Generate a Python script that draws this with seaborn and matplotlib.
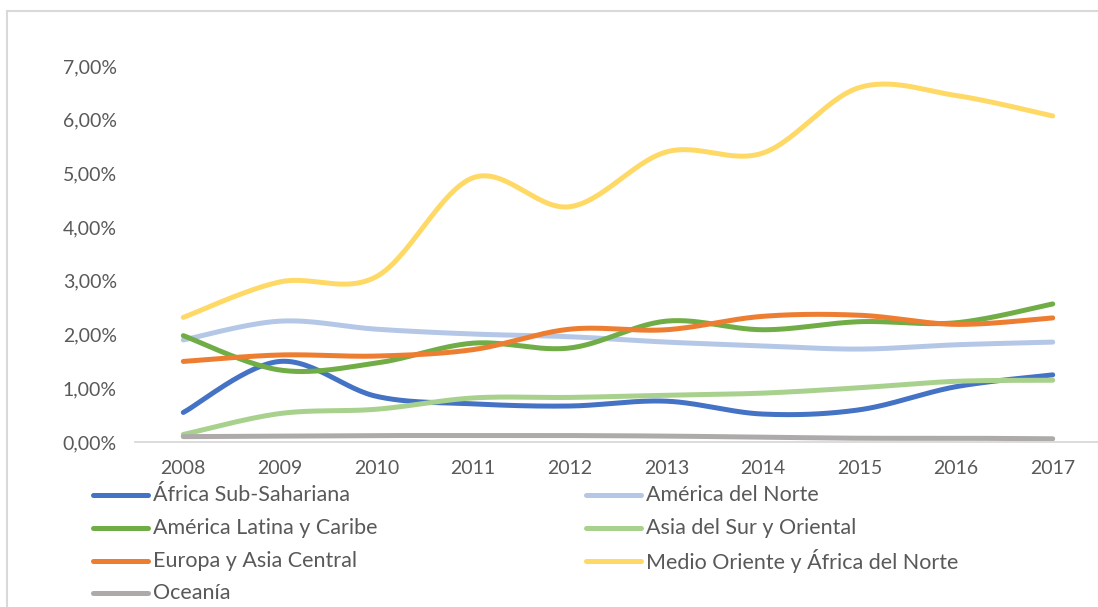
import numpy as np
import pandas as pd
import seaborn as sns
import matplotlib.pyplot as plt
from matplotlib.lines import Line2D

years = ["2008", "2009", "2010", "2011", "2012", "2013", "2014", "2015", "2016", "2017"]

africa_sub = [0.55, 1.50, 0.85, 0.71, 0.67, 0.76, 0.52, 0.60, 1.03, 1.25]
america_norte = [1.90, 2.25, 2.10, 2.01, 1.96, 1.86, 1.79, 1.73, 1.81, 1.86]
america_latina = [1.98, 1.34, 1.47, 1.84, 1.75, 2.25, 2.09, 2.24, 2.22, 2.57]
asia_sur = [0.14, 0.53, 0.61, 0.82, 0.83, 0.87, 0.91, 1.01, 1.13, 1.15]
europa_asia = [1.50, 1.62, 1.60, 1.72, 2.10, 2.09, 2.34, 2.36, 2.19, 2.31]
medio_oriente = [2.32, 2.98, 3.08, 4.92, 4.38, 5.40, 5.38, 6.60, 6.45, 6.07]
oceania = [0.10, 0.11, 0.12, 0.12, 0.12, 0.11, 0.09, 0.07, 0.07, 0.06]

series = {
    "África Sub-Sahariana": africa_sub,
    "América del Norte": america_norte,
    "América Latina y Caribe": america_latina,
    "Asia del Sur y Oriental": asia_sur,
    "Europa y Asia Central": europa_asia,
    "Medio Oriente y África del Norte": medio_oriente,
    "Oceanía": oceania,
}
colors = {
    "África Sub-Sahariana": "#4472C4",
    "América del Norte": "#B4C7E7",
    "América Latina y Caribe": "#70AD47",
    "Asia del Sur y Oriental": "#A9D18E",
    "Europa y Asia Central": "#ED7D31",
    "Medio Oriente y África del Norte": "#FFD966",
    "Oceanía": "#AEAAAA",
}


def smooth(values, steps=30):
    # Excel-like smoothed line (Catmull-Rom bezier through the points)
    p = np.column_stack([np.arange(len(values)), np.asarray(values) / 100.0])
    pts = np.vstack([p[0], p, p[-1]])
    out = []
    for i in range(1, len(pts) - 2):
        p0, p1, p2, p3 = pts[i - 1], pts[i], pts[i + 1], pts[i + 2]
        c1 = p1 + (p2 - p0) / 6.0
        c2 = p2 - (p3 - p1) / 6.0
        t = np.linspace(0, 1, steps, endpoint=(i == len(pts) - 3))[:, None]
        out.append((1 - t) ** 3 * p1 + 3 * (1 - t) ** 2 * t * c1 + 3 * (1 - t) * t ** 2 * c2 + t ** 3 * p2)
    return np.vstack(out)


rows = []
for name, vals in series.items():
    curve = smooth(vals)
    rows.append(pd.DataFrame({"x": curve[:, 0], "y": curve[:, 1], "region": name}))
df = pd.concat(rows, ignore_index=True)

sns.set_style("white")
plt.rcParams["font.family"] = ["Lato", "DejaVu Sans"]

W, H = 1098, 607
fig = plt.figure(figsize=(W / 100, H / 100), dpi=100)
ax = fig.add_axes([135 / W, 1 - 442 / H, (1101 - 135) / W, (442 - 66) / H])

sns.lineplot(data=df, x="x", y="y", hue="region", palette=colors, sort=False,
             linewidth=3.6, legend=False, ax=ax, estimator=None)
for line in ax.get_lines():
    line.set_solid_capstyle("round")
    line.set_solid_joinstyle("round")

ax.set_xlim(-0.5, len(years) - 0.5)
ax.set_ylim(0, 0.07)
ax.set_xticks(range(len(years)))
ax.set_xticklabels(years)
yt = np.arange(0, 0.0701, 0.01)
ax.set_yticks(yt)
ax.set_yticklabels([f"{v * 100:.2f}".replace(".", ",") + "%" for v in yt])
ax.set_xlabel("")
ax.set_ylabel("")
ax.tick_params(axis="both", length=0, labelsize=14, labelcolor="#595959")
ax.tick_params(axis="y", pad=13)
ax.tick_params(axis="x", pad=13)
for s in ["top", "right", "left"]:
    ax.spines[s].set_visible(False)
ax.spines["bottom"].set_color("#D9D9D9")
ax.spines["bottom"].set_linewidth(1.3)
ax.grid(False)

# chart frame (left and top edges visible)
fig.add_artist(Line2D([7 / W, 7 / W], [0, 1 - 11 / H], color="#D9D9D9", lw=1.5))
fig.add_artist(Line2D([7 / W, 1], [1 - 11 / H, 1 - 11 / H], color="#D9D9D9", lw=1.5))

# legend: two columns, filled row by row like Excel
names = list(series.keys())
col_x = [93, 586]
row_y = [495, 528, 561, 593]
for i, name in enumerate(names):
    x0 = col_x[i % 2]
    yc = 1 - row_y[i // 2] / H
    fig.add_artist(Line2D([x0 / W, (x0 + 55) / W], [yc, yc], color=colors[name], lw=3.6,
                          solid_capstyle="round"))
    fig.text((x0 + 60) / W, yc, name, fontsize=15.5, color="#595959", va="center", ha="left")

fig.savefig("out.png", dpi=100)
